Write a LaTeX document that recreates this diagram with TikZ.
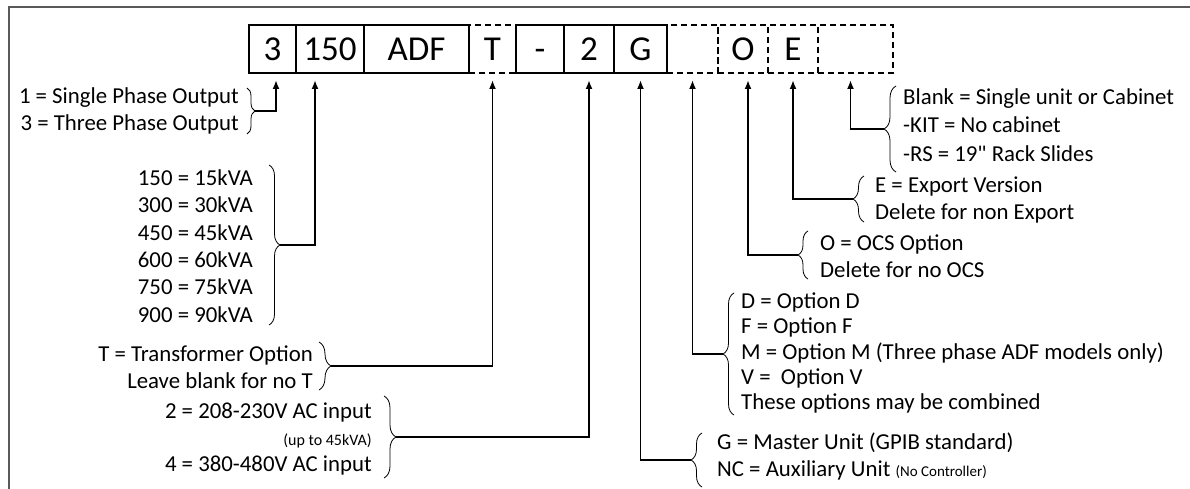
\documentclass[tikz,border=0pt]{standalone}
\usepackage{fontspec}
\setmainfont{Carlito}[Ligatures=TeXOff]
\usetikzlibrary{arrows.meta,decorations.pathreplacing}

\tikzset{
  cell/.style={draw, line width=1.6pt, minimum height=48pt, inner sep=0pt, outer sep=0pt,
    text height=23pt, text depth=0pt, font=\fontsize{35}{35}\selectfont},
  opt/.style={cell, dash pattern=on 6pt off 4pt},
  lbl/.style={inner sep=0pt, font=\fontsize{22.8}{27}\selectfont},
  conn/.style={line width=1.8pt, -{Latex[length=9pt,width=7pt]}, shorten >=7pt},
  curly/.style={decorate, decoration={brace, amplitude=#1}, line width=0.8pt},
}

\begin{document}
\begin{tikzpicture}[x=1pt, y=-1pt]
  \useasboundingbox (0,0) rectangle (1190,489);
  \draw[line width=2pt, black!65] (9,489) -- (9,7) -- (1190,7);

  % optional fields (dashed) go first
  \node[opt, minimum width=47pt] (bT) at (492.5,49) {T};
  \node[opt, minimum width=51pt] (bOpt) at (692.5,49) {};
  \node[opt, minimum width=50pt] (bO) at (743,49) {O};
  \node[opt, minimum width=50pt] (bE) at (793,49) {E};
  \node[opt, minimum width=75pt] (bCab) at (855.5,49) {};
  % fixed fields
  \node[cell, minimum width=47pt] (b3) at (272.5,49) {3};
  \node[cell, minimum width=68pt] (b150) at (330,49) {150};
  \node[cell, minimum width=105pt] (bADF) at (416.5,49) {ADF};
  \node[cell, minimum width=48pt] (bDash) at (540,49) {-};
  \node[cell, minimum width=50pt] (b2) at (589,49) {2};
  \node[cell, minimum width=53pt] (bG) at (640.5,49) {G};

  % left hand keys
  \node[lbl, align=right, anchor=east] (kPh) at (239,111) {1 = Single Phase Output\\3 = Three Phase Output};
  \node[lbl, align=right, anchor=east, font=\fontsize{22.8}{27.3}\selectfont] (kVA) at (253,246)
    {150 = 15kVA\\300 = 30kVA\\450 = 45kVA\\600 = 60kVA\\750 = 75kVA\\900 = 90kVA};
  \node[lbl, align=right, anchor=east] (kT) at (313,367) {T = Transformer Option\\Leave blank for no T};
  \node[lbl, align=right, anchor=east, font=\fontsize{22.8}{26.5}\selectfont] (kIn) at (372,439)
    {2 = 208-230V AC input\\{\fontsize{16}{16}\selectfont (up to 45kVA)}\\4 = 380-480V AC input};

  % right hand keys
  \node[lbl, align=left, anchor=west] (kG) at (717,456)
    {G = Master Unit (GPIB standard)\\NC = Auxiliary Unit {\fontsize{15}{15}\selectfont (No Controller)}};
  \node[lbl, align=left, anchor=west, font=\fontsize{22.8}{25.3}\selectfont] (kOpt) at (741,353)
    {D = Option D\\F = Option F\\M = Option M (Three phase ADF models only)\\V =~ Option V\\These options may be combined};
  \node[lbl, align=left, anchor=west] (kO) at (820,256) {O = OCS Option\\Delete for no OCS};
  \node[lbl, align=left, anchor=west] (kE) at (875,200) {E = Export Version\\Delete for non Export};
  \node[lbl, align=left, anchor=west, font=\fontsize{22.8}{28.5}\selectfont] (kCab) at (903,125)
    {Blank = Single unit or Cabinet\\-KIT = No cabinet\\-RS = 19" Rack Slides};

  % braces
  \draw[curly=8pt] (247,88) -- (247,134);
  \draw[curly=11pt] (269,165) -- (269,325);
  \draw[curly=12pt] (319,342) -- (319,390);
  \draw[curly=12pt] (384,396) -- (384,478);
  \draw[curly=11pt] (702,487) -- (702,433);
  \draw[curly=11pt] (734,415) -- (734,293);
  \draw[curly=10pt] (808,279) -- (808,231);
  \draw[curly=11pt] (864,222) -- (864,176);
  \draw[curly=12pt] (896,172) -- (896,86);

  \coordinate (tPh) at (255,111);
  \coordinate (tVA) at (280,245);
  \coordinate (tT) at (331,366);
  \coordinate (tIn) at (396,437);
  \coordinate (tG) at (691,460);
  \coordinate (tOpt) at (723,354);
  \coordinate (tO) at (798,255);
  \coordinate (tE) at (853,199);
  \coordinate (tCab) at (884,129);

  % connectors
  \draw[conn] (tPh) -| ([xshift=3.5pt]b3.south);
  \draw[conn] (tVA) -| ([xshift=-15pt]b150.south);
  \draw[conn] (tT) -| (bT.south);
  \draw[conn] (tIn) -| (b2.south);
  \draw[conn] (tG) -| (bG.south);
  \draw[conn] (tOpt) -| (bOpt.south);
  \draw[conn] (tO) -| ([xshift=5pt]bO.south);
  \draw[conn] (tE) -| (bE.south);
  \draw[conn] (tCab) -| ([xshift=-5pt]bCab.south);
\end{tikzpicture}
\end{document}
